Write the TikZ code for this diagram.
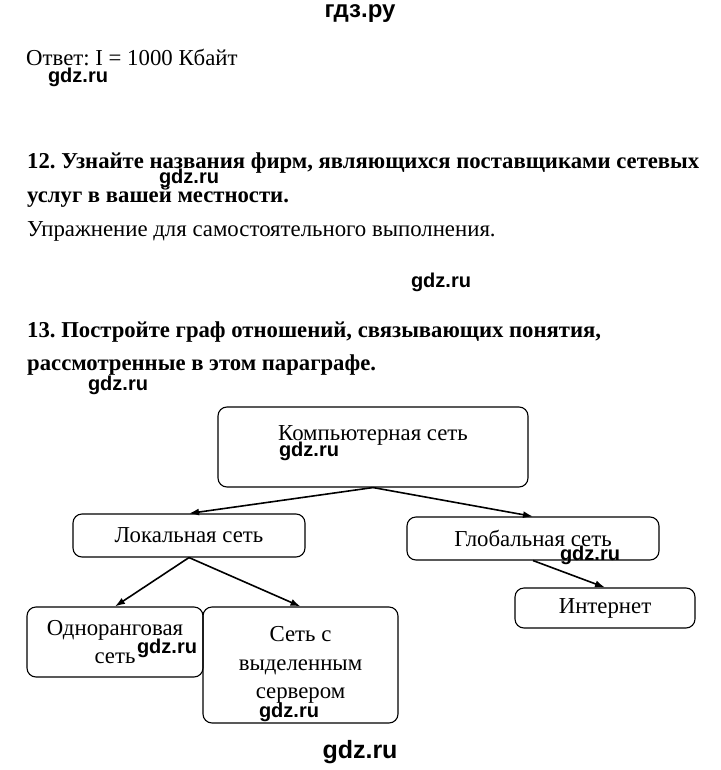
\documentclass[tikz,border=0pt]{standalone}
\usepackage{fontspec}
\setmainfont{Liberation Serif}
\newfontfamily\wmfont{Liberation Sans}
\usetikzlibrary{arrows.meta,positioning}
\frenchspacing

\begin{document}
\begin{tikzpicture}[
    x=1pt, y=-1pt,
    every node/.style={font=\fontsize{22.8}{28.5}\selectfont, inner sep=0pt},
    box/.style={rectangle, rounded corners=9pt, draw, line width=1.1pt, align=center},
    arrow/.style={-{Latex[length=10pt,width=7pt]}, line width=1.6pt},
    wm/.style={font=\wmfont\bfseries\fontsize{20}{20}\selectfont},
    task/.style={anchor=base west, font=\bfseries\fontsize{22.7}{26}\selectfont},
    plain/.style={anchor=base west}
  ]
    \useasboundingbox (0,0) rectangle (720,770);

    % page text
    \node[wm, anchor=base, font=\wmfont\bfseries\fontsize{24}{24}\selectfont] (site) at (360,18) {гдз.ру};
    \node[plain] (answer) at (26,66) {Ответ: I = 1000 Кбайт};
    \node[task] (task12a) at (27,168) {12. Узнайте названия фирм, являющихся поставщиками сетевых};
    \node[task] (task12b) at (27,202) {услуг в вашей местности.};
    \node[plain] (exercise) at (27,236) {Упражнение для самостоятельного выполнения.};
    \node[task] (task13a) at (27,337) {13. Постройте граф отношений, связывающих понятия,};
    \node[task] (task13b) at (27,370) {рассмотренные в этом параграфе.};

    % graph
    \node[box, minimum width=310pt, minimum height=80pt] (comp) at (373,447) {Компьютерная сеть\\[-9pt] \strut};
    \node[box, minimum width=232pt, minimum height=43pt] (local) at (189,535.5) {Локальная сеть};
    \node[box, minimum width=252pt, minimum height=43pt] (global) at (533,538.5) {Глобальная сеть};
    \node[box, minimum width=176pt, minimum height=70pt] (peer) at (115,642) {Одноранговая\\сеть};
    \node[box, minimum width=195pt, minimum height=116pt] (server) at (300.5,665) {Сеть с\\выделенным\\сервером};
    \node[box, minimum width=180pt, minimum height=40pt] (inet) at (605,608) {Интернет};

    \draw[arrow] (comp.south) -- (local.north);
    \draw[arrow] (comp.south) -- (global.north);
    \draw[arrow] (local.south) -- (peer.north);
    \draw[arrow] (local.south) -- (server.north);
    \draw[arrow] (global.south) -- (inet.north);

    % watermarks
    \node[wm] (wm1) at (78,77) {gdz.ru};
    \node[wm] (wm2) at (189,178) {gdz.ru};
    \node[wm] (wm3) at (441,282) {gdz.ru};
    \node[wm] (wm4) at (118,385) {gdz.ru};
    \node[wm] (wm5) at (309,451) {gdz.ru};
    \node[wm] (wm6) at (590,555) {gdz.ru};
    \node[wm] (wm7) at (167,648) {gdz.ru};
    \node[wm] (wm8) at (289,712) {gdz.ru};
    \node[wm, font=\wmfont\bfseries\fontsize{25}{25}\selectfont] (wm9) at (360,752) {gdz.ru};
\end{tikzpicture}
\end{document}
